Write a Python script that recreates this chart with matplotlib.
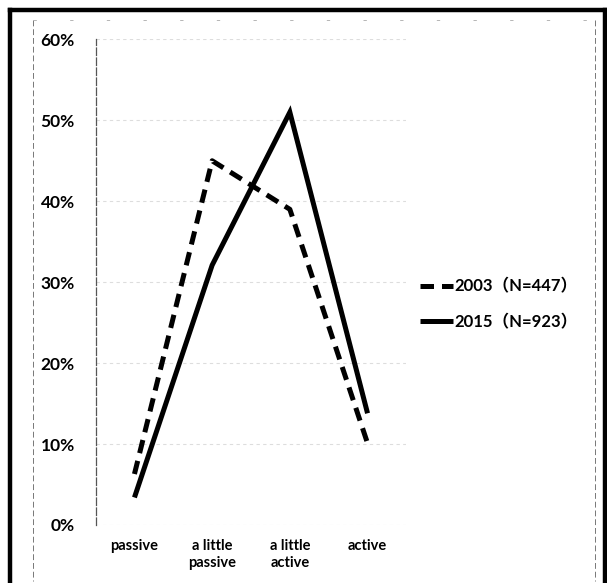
import matplotlib
matplotlib.use("Agg")
import matplotlib.pyplot as plt
from matplotlib.lines import Line2D
from matplotlib.ticker import FuncFormatter

categories = ["passive", "a little\npassive", "a little\nactive", "active"]
series_2003 = [6.3, 45.0, 39.0, 10.1]
series_2015 = [3.4, 32.1, 51.0, 13.8]
labels = ["2003（N=447）", "2015（N=923）"]
yticks = [0, 10, 20, 30, 40, 50, 60]

FONT = ["Lato", "Noto Sans CJK JP", "DejaVu Sans"]
plt.rcParams["font.family"] = FONT

fig = plt.figure(figsize=(6.07, 5.83), dpi=100)
ax = fig.add_axes([0.1575, 0.0995, 0.512, 0.833])

x = list(range(len(categories)))
ax.plot(x, series_2003, color="black", lw=3.6, linestyle=(0, (2.7, 1.6)),
        dash_capstyle="butt", solid_joinstyle="round", label=labels[0])
ax.plot(x, series_2015, color="black", lw=3.6, solid_capstyle="butt",
        solid_joinstyle="miter", label=labels[1])

ax.set_xlim(-0.5, 3.5)
ax.set_ylim(0, 60)
ax.set_yticks(yticks)
ax.yaxis.set_major_formatter(FuncFormatter(lambda v, p: f"{int(v)}%"))
ax.set_xticks(x)
ax.set_xticklabels(categories, fontsize=10.5, fontweight="bold", linespacing=1.3)
for t in ax.get_yticklabels():
    t.set_fontsize(12.5)
    t.set_fontweight("bold")
ax.tick_params(axis="y", length=0, pad=15)
ax.tick_params(axis="x", length=0, pad=10)

ax.grid(axis="y", color="#dddddd", lw=0.8, linestyle=(0, (3, 3)))
ax.set_axisbelow(True)
for s in ["top", "right", "bottom"]:
    ax.spines[s].set_visible(False)
ax.spines["left"].set_color("#555555")
ax.spines["left"].set_linewidth(0.9)
ax.spines["left"].set_linestyle((0, (6, 2)))

leg = fig.legend(loc="center left", bbox_to_anchor=(0.692, 0.478),
                 frameon=False, handlelength=2.0, handletextpad=0.05,
                 labelspacing=1.15, borderaxespad=0, borderpad=0,
                 prop={"family": FONT, "size": 12, "weight": "bold"})

W, H = 607, 583
def fx(px): return px / W
def fy(py): return 1 - py / H

# outer thick border (left, top, right)
fig.add_artist(Line2D([fx(10), fx(10)], [fy(10), fy(583)], color="black", lw=3.2))
fig.add_artist(Line2D([fx(10), fx(605)], [fy(10), fy(10)], color="black", lw=3.2))
fig.add_artist(Line2D([fx(605), fx(605)], [fy(10), fy(583)], color="black", lw=3.2))

# faint dashed inner chart frame
fig.add_artist(Line2D([fx(33), fx(33)], [fy(20), fy(581)], color="#777777", lw=0.7,
                      linestyle=(0, (6, 3))))
fig.add_artist(Line2D([fx(595), fx(595)], [fy(20), fy(581)], color="#777777", lw=0.7,
                      linestyle=(0, (6, 3))))
fig.add_artist(Line2D([fx(33), fx(595)], [fy(20), fy(20)], color="#aaaaaa", lw=0.6,
                      linestyle=(0, (4, 40))))

fig.savefig("out.png", dpi=100, facecolor="white")
